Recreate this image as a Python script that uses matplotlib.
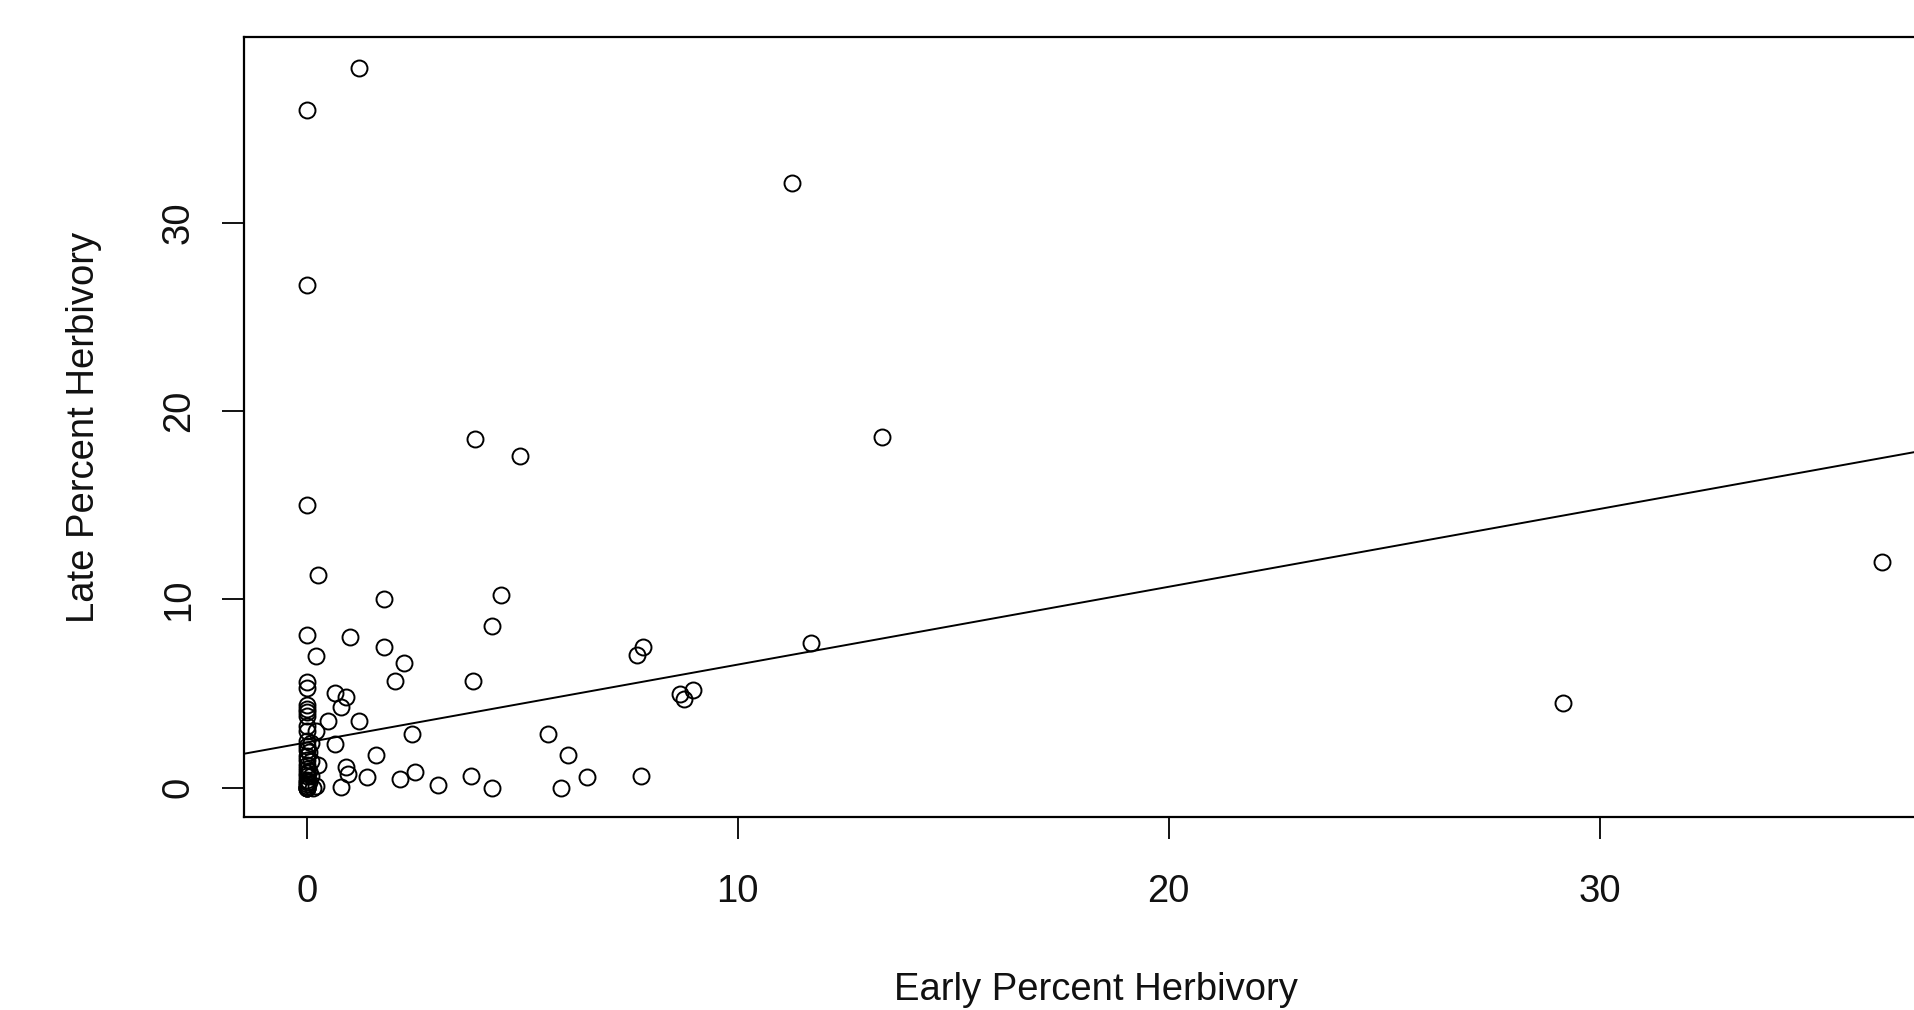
import matplotlib
matplotlib.use("Agg")
import matplotlib.pyplot as plt

plt.rcParams['font.family'] = ['Liberation Sans', 'DejaVu Sans']

# Early (x) and late (y) percent herbivory
early = [1.2, 0, 11.25, 0, 3.9, 13.35, 4.95, 0, 0.25, 36.55, 1.8, 4.5, 4.3, 0,
         1.0, 1.8, 0.2, 2.25, 7.8, 7.65, 11.7, 3.85, 2.05, 29.15, 8.65, 8.75,
         8.95, 0.65, 0.9, 0.8, 0.5, 1.2, 5.6, 2.45, 0.65, 6.05, 1.6, 0.9, 0.95,
         2.5, 2.15, 1.4, 3.8, 6.5, 7.75, 3.05, 0.8, 4.3, 5.9,
         0, 0, 0, 0, 0, 0, 0, 0, 0, 0, 0, 0, 0, 0, 0, 0, 0, 0, 0, 0, 0, 0, 0, 0, 0,
         0.2, 0.25, 0.2, 0.1, 0.15, 0.1, 0.05, 0.05, 0.1, 0.05]
late = [38.2, 36.0, 32.1, 26.7, 18.5, 18.6, 17.6, 15.0, 11.3, 12.0, 10.0, 10.25,
        8.6, 8.1, 8.0, 7.45, 7.0, 6.6, 7.45, 7.05, 7.7, 5.65, 5.65, 4.5, 5.0, 4.7,
        5.2, 5.05, 4.8, 4.3, 3.55, 3.55, 2.85, 2.85, 2.3, 1.75, 1.75, 1.1, 0.75,
        0.85, 0.45, 0.55, 0.65, 0.55, 0.65, 0.15, 0.05, 0.0, 0.0,
        5.6, 5.3, 4.4, 4.2, 4.0, 3.8, 3.3, 3.0, 2.5, 2.2, 2.0, 1.7, 1.5, 1.2, 1.0,
        0.8, 0.6, 0.4, 0.3, 0.2, 0.1, 0.0, 0.0, 0.0, 0.0,
        3.0, 1.2, 0.1, 0.6, 0.0, 2.4, 1.9, 0.9, 1.4, 0.3]

# fitted regression line (abline of lm)
fit_intercept = 2.41
fit_slope = 0.413

x_ticks = [0, 10, 20, 30]
y_ticks = [0, 10, 20, 30]
x_label = "Early Percent Herbivory"
y_label = "Late Percent Herbivory"

fig = plt.figure(figsize=(19.15, 10.10), dpi=100)
ax = fig.add_axes([244 / 1915, (1010 - 817) / 1010, (1947 - 244) / 1915, (817 - 37) / 1010])

ax.plot(early, late, linestyle='none', marker='o', markersize=11.5,
        markerfacecolor='none', markeredgecolor='black', markeredgewidth=1.4)
ax.axline((0, fit_intercept), slope=fit_slope, color='black', linewidth=1.4)

ax.set_xlim(-1.46, 38.06)
ax.set_ylim(-1.55, 39.85)

ax.set_xticks(x_ticks)
ax.set_xticklabels([str(v) for v in x_ticks])
ax.set_yticks(y_ticks)
ax.set_yticklabels([str(v) for v in y_ticks], rotation=90, va='center')

ax.tick_params(axis='both', direction='out', length=16, width=1.3, labelsize=27.5,
               color='black', labelcolor='#111111')
ax.tick_params(axis='x', pad=25)
ax.tick_params(axis='y', pad=18)

for s in ax.spines.values():
    s.set_linewidth(1.6)
    s.set_color('black')

ax.set_xlabel(x_label, fontsize=27.5, color='#111111', labelpad=45)
ax.set_ylabel(y_label, fontsize=27.5, color='#111111', labelpad=42)

fig.savefig("out.png", dpi=100, facecolor='white')
